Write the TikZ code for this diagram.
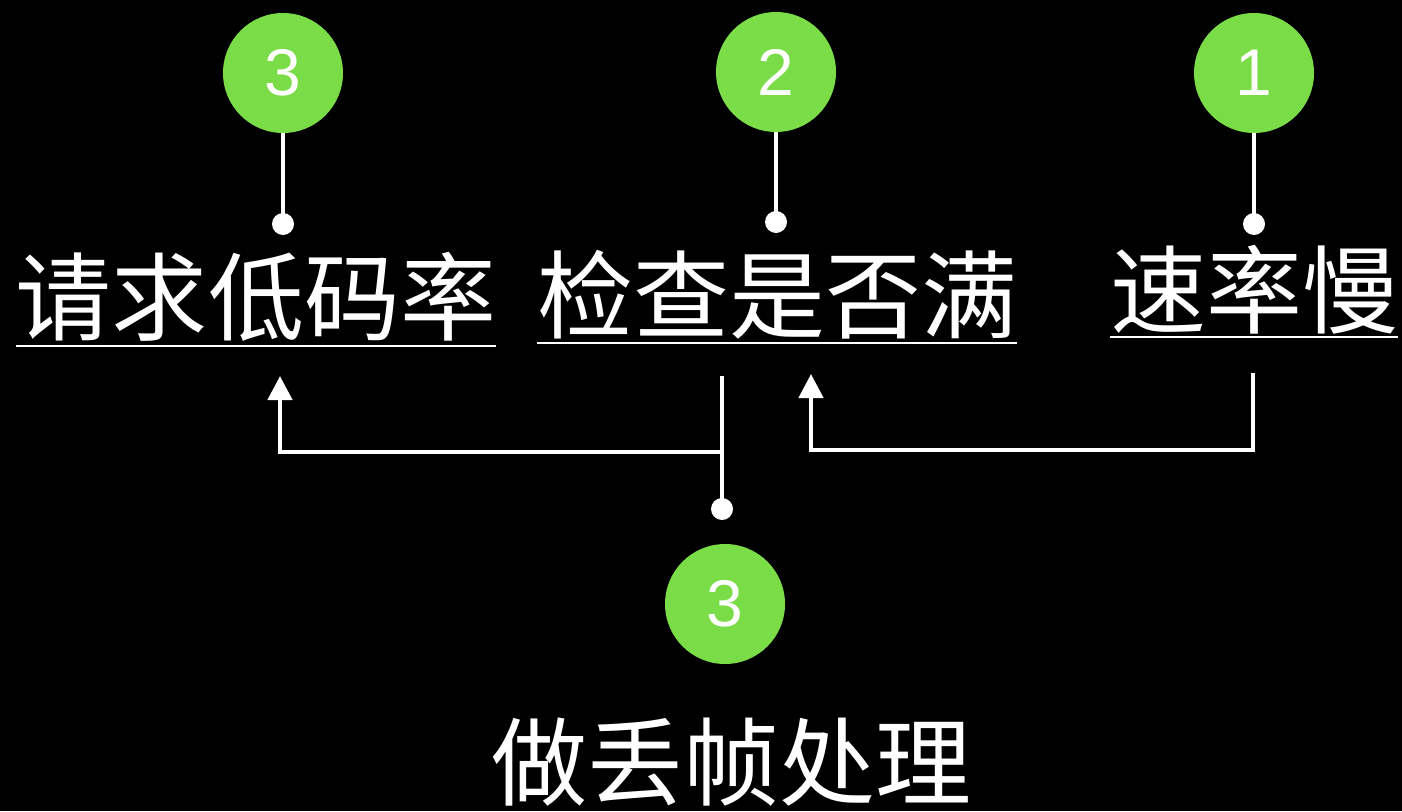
\documentclass[tikz,border=0pt]{standalone}
\usepackage{fontspec}
\setmainfont{Liberation Sans}
\newfontfamily\cjk{Noto Sans CJK SC}
\usetikzlibrary{arrows.meta}
\definecolor{grn}{RGB}{122,220,70}
\begin{document}
\begin{tikzpicture}[x=1pt,y=-1pt,
  badge/.style={circle,fill=grn,minimum size=120pt,inner sep=0pt,text=white,font=\fontsize{66}{66}\selectfont},
  dotnode/.style={circle,fill=white,minimum size=22pt,inner sep=0pt},
  lbl/.style={text=white,inner sep=0pt,anchor=base,font=\cjk\fontsize{96}{96}\selectfont},
  wline/.style={draw=white,line width=4.5pt},
  uline/.style={draw=white,line width=2.5pt},
  arr/.style={wline,-{Triangle[width=24pt,length=24pt]}}]
\fill[black] (0,0) rectangle (1402,811);
\useasboundingbox (0,0) rectangle (1402,811);

% badges
\node[badge] (c3a) at (283,73) {3};
\node[badge] (c2) at (776,72) {2};
\node[badge] (c1) at (1254,73) {1};
\node[badge] (c3b) at (725,604) {3};

% dots
\node[dotnode] (d1) at (283,224) {};
\node[dotnode] (d2) at (776,222) {};
\node[dotnode] (d3) at (1254,224) {};
\node[dotnode] (d4) at (722,509) {};

% labels
\node[lbl] (t1) at (256,333) {请求低码率};
\node[lbl] (t2) at (777,331) {检查是否满};
\node[lbl] (t3) at (1254,326) {速率慢};
\node[lbl] (t4) at (731,798) {做丢帧处理};

% underlines
\draw[uline] ([yshift=-13pt]t1.base west) -- ([yshift=-13pt]t1.base east);
\draw[uline] ([yshift=-12pt]t2.base west) -- ([yshift=-12pt]t2.base east);
\draw[uline] ([yshift=-11pt]t3.base west) -- ([yshift=-11pt]t3.base east);

% badge-to-dot stems
\draw[wline] (c3a.south) -- (d1.center);
\draw[wline] (c2.south) -- (d2.center);
\draw[wline] (c1.south) -- (d3.center);

% connectors
\coordinate (j1) at (722,376);
\coordinate (a1) at (280,376);
\coordinate (r1) at (1253,373);
\coordinate (a2) at (811,374);
\coordinate (hl) at (0,452);
\coordinate (hr) at (0,450);
\draw[wline] (d4.center) -- (j1);
\draw[arr] (j1 |- hl) -| (a1);
\draw[arr] (r1) |- (a2 |- hr) -- (a2);
\end{tikzpicture}
\end{document}
